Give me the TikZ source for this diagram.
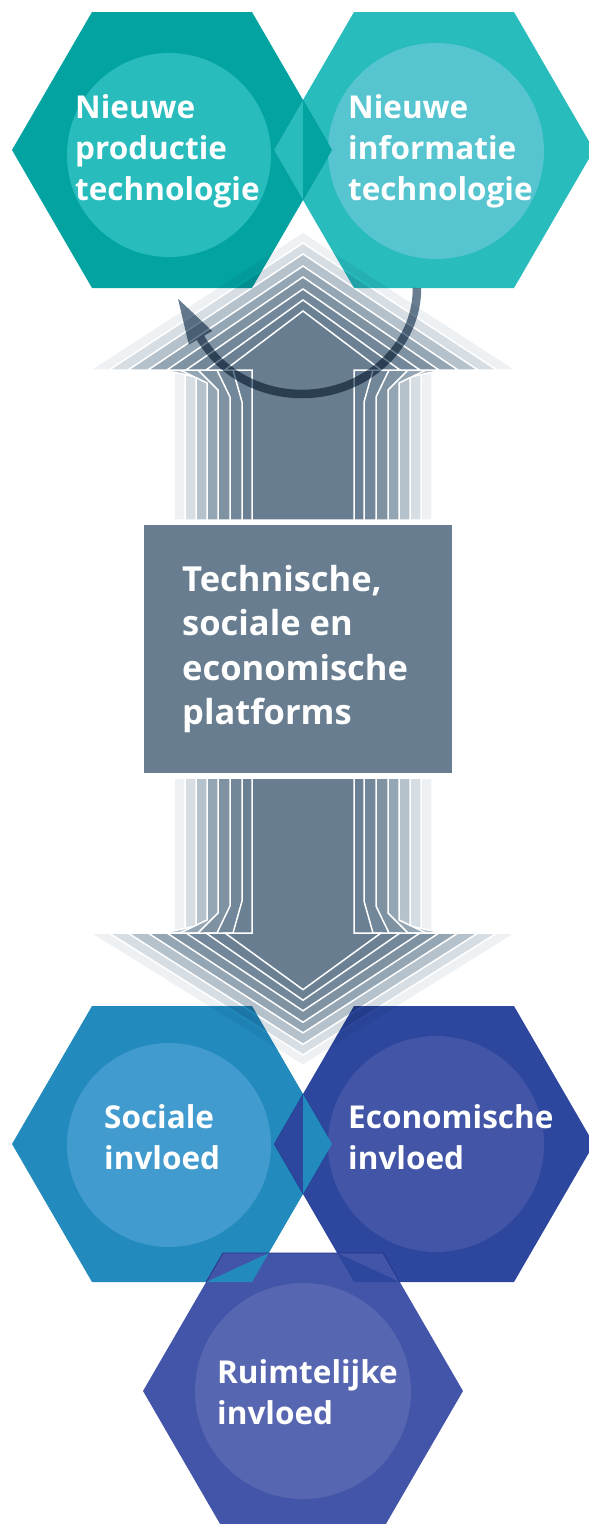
\documentclass[tikz,border=0pt]{standalone}
\usepackage{fontspec}
\setmainfont{Open Sans}

% palette
\definecolor{tealD}{HTML}{03A3A2}
\definecolor{tealM}{HTML}{28BCBD}
\definecolor{tealL}{HTML}{56C5CF}
\definecolor{blueM}{HTML}{228ABD}
\definecolor{blueL}{HTML}{429BCE}
\definecolor{navyM}{HTML}{2C479D}
\definecolor{navyL}{HTML}{4255A6}
\definecolor{indigoM}{HTML}{4355A8}
\definecolor{indigoL}{HTML}{5766B1}
\definecolor{edgeN}{HTML}{26358A}
\definecolor{slate}{HTML}{687D90}
\definecolor{layA}{HTML}{6B8093}
\definecolor{layB}{HTML}{728799}
\definecolor{layC}{HTML}{7E92A2}
\definecolor{layD}{HTML}{94A6B4}
\definecolor{layE}{HTML}{B5C1CB}
\definecolor{layF}{HTML}{D6DDE3}
\definecolor{layG}{HTML}{EEF1F4}

\tikzset{
  hexa/.pic={\path[pic actions] (-160,0) -- (-80,-138) -- (80,-138) -- (160,0) -- (80,138) -- (-80,138) -- cycle;},
  hexfill/.style={blend mode=multiply},
  layer/.style={draw=white, line width=1.5pt, line join=miter},
  lbl/.style={anchor=base west, inner sep=0pt, text=white, font=\bfseries\fontsize{31.5}{38}\selectfont},
  boxlbl/.style={lbl, font=\bfseries\fontsize{34.5}{41}\selectfont},
  loopline/.style={draw=slate, line width=8.5pt, blend mode=multiply},
  loophead/.style={fill=slate, blend mode=multiply},
}

\begin{document}
\begin{tikzpicture}[x=1pt, y=-1pt]
\useasboundingbox (0,0) rectangle (589,1524);
\clip (0,0) rectangle (589,1524);

% layered double arrow: outer (light) layers first, body last
\foreach \T/\H/\F/\B/\S/\col in {
    232/213/173/371/129/layG,
    243/194/156/373/118/layF,
    254/175/140/377/107/layE,
    266/155/123/383/96/layD,
    277/136/105/390/85/layC,
    289/117/86/397/73/layB,
    300/97/70/402/61/layA,
    311/78/51/370/51/slate} {
  % upward half
  \filldraw[layer, fill=\col]
    ({303-\S},520) -- ({303-\S},\B) -- ({303-\F},370) -- ({303-\H},370)
    -- (303,\T) -- ({303+\H},370) -- ({303+\F},370) -- ({303+\S},\B)
    -- ({303+\S},520) -- cycle;
  % downward half
  \filldraw[layer, fill=\col]
    ({303-\S},778) -- ({303-\S},{1303-\B}) -- ({303-\F},933) -- ({303-\H},933)
    -- (303,{933+0.96*(370-\T)}) -- ({303+\H},933) -- ({303+\F},933) -- ({303+\S},{1303-\B})
    -- ({303+\S},778) -- cycle;
}

% central platform box
\node[fill=slate, minimum width=308pt, minimum height=248pt, inner sep=0pt] (platform) at (298,649) {};

% top pair of hexagons
\pic[fill=tealD, hexfill] (prod) at (172,150) {hexa};
\pic[fill=tealM, hexfill] (info) at (434,150) {hexa};
\fill[tealL] (436,151) circle[radius=108];
\fill[tealM] (169,155) circle[radius=102];
\fill[tealM] (303,100) -- (274,150) -- (303,200) -- cycle;
\fill[tealD] (303,100) -- (332,150) -- (303,200) -- cycle;

% bottom pair of hexagons
\pic[fill=blueM, hexfill] (soc) at (172,1144) {hexa};
\pic[fill=navyM, hexfill] (eco) at (434,1144) {hexa};
\fill[navyL] (436,1144) circle[radius=108];
\fill[blueL] (169,1145) circle[radius=102];
\fill[navyM] (303,1094) -- (274,1144) -- (303,1194) -- cycle;
\fill[blueM] (303,1094) -- (332,1144) -- (303,1194) -- cycle;

% spatial hexagon below
\pic[fill=indigoM] (ruim) at (303,1391) {hexa};
\fill[indigoL] (303,1391) circle[radius=108];
\fill[blueM] (268.8,1253) -- (252,1282) -- (206.2,1282) -- cycle;
\fill[navyM] (337.2,1253) -- (399.8,1282) -- (354,1282) -- cycle;
\draw[edgeN, line width=0.8pt] (206.2,1282) -- (223,1253) -- (383,1253) -- (399.8,1282);

% labels
\node[lbl] (p1) at (75,118) {Nieuwe};
\node[lbl] (p2) at (75,159) {productie};
\node[lbl] (p3) at (75,200) {technologie};
\node[lbl] (i1) at (348,118) {Nieuwe};
\node[lbl] (i2) at (348,159) {informatie};
\node[lbl] (i3) at (348,200) {technologie};
\node[boxlbl] (b1) at (182,591) {Technische,};
\node[boxlbl] (b2) at (182,635.5) {sociale en};
\node[boxlbl] (b3) at (182,680) {economische};
\node[boxlbl] (b4) at (182,724) {platforms};
\node[lbl] (s1) at (104,1128) {Sociale};
\node[lbl] (s2) at (104,1169) {invloed};
\node[lbl] (e1) at (348,1128) {Economische};
\node[lbl] (e2) at (348,1169) {invloed};
\node[lbl] (r1) at (217,1383) {Ruimtelijke};
\node[lbl] (r2) at (217,1424) {invloed};

% feedback loop between the two technologies
\coordinate (loopstart) at (417,288);
\coordinate (loopend) at (200.5,337.8);
\draw[loopline] (loopstart) arc[start angle=0, end angle=152, x radius=115, y radius=106];
\fill[loophead] (212.2,331.05) -- (178,298.8) -- (188.8,344.55) -- cycle;
\end{tikzpicture}
\end{document}
